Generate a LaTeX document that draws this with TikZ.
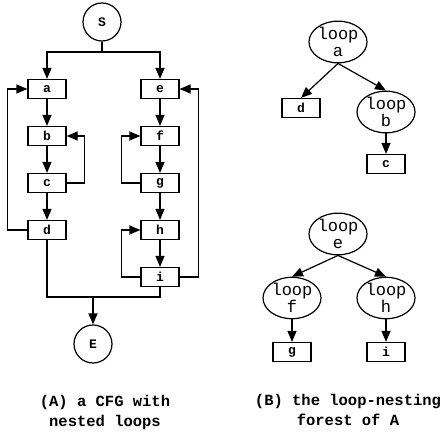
\documentclass[tikz,border=0pt]{standalone}
\usepackage{fontspec}
\setmonofont{Liberation Mono}
\usetikzlibrary{arrows.meta,shapes.geometric}
\begin{document}
\begin{tikzpicture}[x=1pt,y=-1pt,
  line width=1.2pt,
  arr/.style={-{Triangle[length=11pt,width=9pt]}},
  blk/.style={draw,rectangle,minimum width=38pt,minimum height=19pt,inner sep=0pt,font=\ttfamily\bfseries\fontsize{13}{13}\selectfont},
  term/.style={draw,circle,minimum size=38pt,inner sep=0pt,font=\ttfamily\bfseries\fontsize{13}{13}\selectfont},
  lp/.style={draw,ellipse,minimum width=58pt,minimum height=38pt,inner sep=0pt,align=center,font=\ttfamily\fontsize{17}{17}\selectfont},
  captxt/.style={align=center,font=\ttfamily\bfseries\fontsize{15.5}{20}\selectfont}]
\useasboundingbox (0,0) rectangle (447,433);
% CFG
\node[term] (S) at (102,22) {S};
\node[blk] (a) at (47,89) {a};
\node[blk] (b) at (47,136) {b};
\node[blk] (c) at (47,183) {c};
\node[blk] (d) at (47,230) {d};
\node[blk] (e) at (160,89) {e};
\node[blk] (f) at (160,136) {f};
\node[blk] (g) at (160,183) {g};
\node[blk] (h) at (160,230) {h};
\node[blk] (i) at (160,277) {i};
\node[term] (E) at (93,344) {E};
\coordinate (j1) at (102,52);
\coordinate (j2) at (93,297);
\draw (S.south) -- (j1);
\draw[arr] (j1) -| (a.north);
\draw[arr] (j1) -| (e.north);
\draw[arr] (a) -- (b);
\draw[arr] (b) -- (c);
\draw[arr] (c) -- (d);
\draw[arr] (e) -- (f);
\draw[arr] (f) -- (g);
\draw[arr] (g) -- (h);
\draw[arr] (h) -- (i);
\draw[arr] (c.east) -- ++(18,0) |- (b.east);
\draw[arr] (d.west) -- ++(-20,0) |- (a.west);
\draw[arr] (g.west) -- ++(-19,0) |- (f.west);
\draw[arr] (i.west) -- ++(-19,0) |- (h.west);
\draw[arr] (i.east) -- ++(19,0) |- (e.east);
\draw (d.south) |- (j2) -| (i.south);
\draw[arr] (j2) -- (E.north);
% forest
\node[lp] (la) at (338,42) {loop\\a};
\node[blk] (td) at (301,108) {d};
\node[lp] (lb) at (386,112) {loop\\b};
\node[blk] (tc) at (386,164) {c};
\node[lp] (le) at (338,234) {loop\\e};
\node[lp] (lf) at (292,298) {loop\\f};
\node[lp] (lh) at (386,298) {loop\\h};
\node[blk] (tg) at (292,352) {g};
\node[blk] (ti) at (386,352) {i};
\draw[arr] (la.south) -- (td.north);
\draw[arr] (la.south) -- (lb.north);
\draw[arr] (lb.south) -- (tc.north);
\draw[arr] (le.south) -- (lf.north);
\draw[arr] (le.south) -- (lh.north);
\draw[arr] (lf.south) -- (tg.north);
\draw[arr] (lh.south) -- (ti.north);
% captions
\node[captxt] (ca) at (105,412) {(A) a CFG with\\nested loops};
\node[captxt] (cb) at (348,410) {(B) the loop-nesting\\forest of A};
\end{tikzpicture}
\end{document}
